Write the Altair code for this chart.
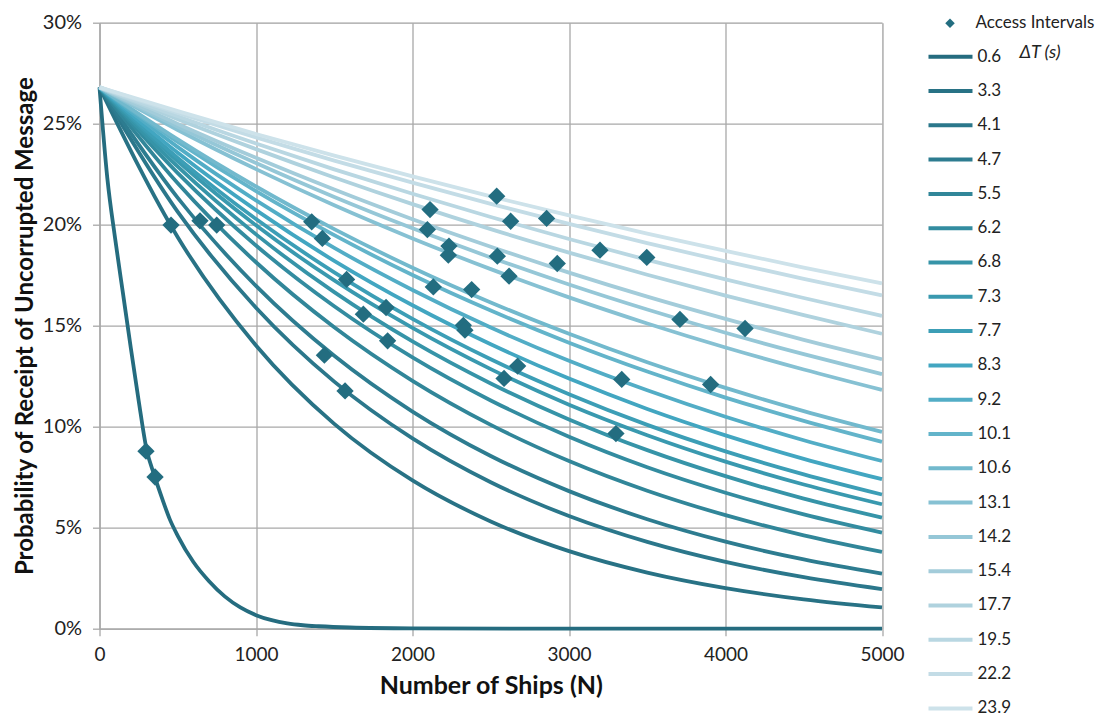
import altair as alt
import pandas as pd

# ---- data ----
DT_LABELS = ["0.6", "3.3", "4.1", "4.7", "5.5", "6.2", "6.8", "7.3", "7.7", "8.3",
             "9.2", "10.1", "10.6", "13.1", "14.2", "15.4", "17.7", "19.5", "22.2", "23.9"]

COLORS = ["#256c7f", "#287285", "#2b778b", "#2d7c90", "#318699", "#338ca0", "#3694a8",
          "#3999af", "#3c9eb6", "#42a6c1", "#52adc6", "#63b4ca", "#72b9cd", "#86c1d3",
          "#95c7d7", "#a3ccda", "#afd2de", "#b9d7e2", "#c3dce6", "#cde2ea"]

# ships axis for the 0.6 s curve (dense, steep drop)
N_06 = [0, 50, 100, 150, 200, 250, 300, 350, 400, 450, 500, 600, 700, 800, 900,
        1000, 1100, 1200, 1300, 1400, 1600, 2000, 3000, 4000, 5000]
P_06 = [26.8, 22.3, 19.3, 16.6, 13.9, 11.3, 8.9, 7.6, 6.45, 5.4, 4.6, 3.3, 2.35, 1.6, 1.05,
        0.67, 0.42, 0.26, 0.17, 0.12, 0.06, 0.02, 0.0, 0.0, 0.0]

# ships axis for the other curves
N_GRID = [0, 500, 1000, 1500, 2000, 2500, 3000, 3500, 4000, 4500, 5000]
P_3_3 = [26.8, 19.38, 14.02, 10.14, 7.34, 5.31, 3.84, 2.78, 2.01, 1.45, 1.05]
P_4_1 = [26.8, 20.63, 15.89, 12.23, 9.42, 7.25, 5.58, 4.30, 3.31, 2.55, 1.96]
P_4_7 = [26.8, 21.33, 16.97, 13.51, 10.75, 8.55, 6.81, 5.42, 4.31, 3.43, 2.73]
P_5_5 = [26.8, 22.05, 18.14, 14.92, 12.27, 10.09, 8.30, 6.83, 5.62, 4.62, 3.80]
P_6_2 = [26.8, 22.55, 18.97, 15.96, 13.43, 11.30, 9.50, 7.99, 6.73, 5.66, 4.76]
P_6_8 = [26.8, 22.87, 19.52, 16.66, 14.22, 12.14, 10.36, 8.84, 7.55, 6.44, 5.50]
P_7_3 = [26.8, 23.14, 19.97, 17.24, 14.89, 12.85, 11.09, 9.58, 8.27, 7.14, 6.16]
P_7_7 = [26.8, 23.31, 20.28, 17.64, 15.34, 13.34, 11.61, 10.09, 8.78, 7.64, 6.64]
P_8_3 = [26.8, 23.56, 20.72, 18.21, 16.01, 14.08, 12.38, 10.88, 9.57, 8.41, 7.40]
P_9_2 = [26.8, 23.84, 21.20, 18.85, 16.77, 14.91, 13.26, 11.80, 10.49, 9.33, 8.30]
P_10_1 = [26.8, 24.10, 21.66, 19.48, 17.51, 15.75, 14.16, 12.73, 11.44, 10.29, 9.25]
P_10_6 = [26.8, 24.22, 21.89, 19.78, 17.87, 16.15, 14.60, 13.19, 11.92, 10.77, 9.74]
P_13_1 = [26.8, 24.69, 22.75, 20.96, 19.32, 17.80, 16.40, 15.11, 13.92, 12.83, 11.82]
P_14_2 = [26.8, 24.85, 23.05, 21.37, 19.82, 18.38, 17.04, 15.80, 14.65, 13.59, 12.60]
P_15_4 = [26.8, 24.99, 23.31, 21.74, 20.27, 18.91, 17.63, 16.44, 15.34, 14.30, 13.34]
P_17_7 = [26.8, 25.22, 23.74, 22.34, 21.02, 19.78, 18.62, 17.52, 16.49, 15.52, 14.60]
P_19_5 = [26.8, 25.37, 24.02, 22.74, 21.53, 20.38, 19.29, 18.26, 17.29, 16.37, 15.49]
P_22_2 = [26.8, 25.53, 24.32, 23.17, 22.08, 21.03, 20.04, 19.09, 18.18, 17.32, 16.50]
P_23_9 = [26.8, 25.62, 24.49, 23.42, 22.39, 21.40, 20.46, 19.56, 18.70, 17.88, 17.09]

# access-interval diamonds
DIAMOND_N = [297, 355, 457, 642, 749, 1356, 1424, 1437, 1579, 1569, 1686, 1831, 1841,
             2095, 2112, 2233, 2229, 2133, 2378, 2325, 2335, 2538, 2542, 2627, 2617,
             2585, 2672, 2857, 2925, 3198, 3300, 3337, 3497, 3709, 3905, 4125]
DIAMOND_P = [8.79, 7.51, 19.98, 20.19, 19.98, 20.14, 19.32, 13.54, 17.29, 11.77, 15.57,
             15.9, 14.25, 19.76, 20.75, 18.94, 18.49, 16.92, 16.79, 15.02, 14.78, 21.41,
             18.44, 20.17, 17.45, 12.39, 13.0, 20.31, 18.08, 18.74, 9.66, 12.34, 18.38,
             15.31, 12.09, 14.86]

# ---- tables ----
other = [P_3_3, P_4_1, P_4_7, P_5_5, P_6_2, P_6_8, P_7_3, P_7_7, P_8_3, P_9_2,
         P_10_1, P_10_6, P_13_1, P_14_2, P_15_4, P_17_7, P_19_5, P_22_2, P_23_9]
rows = []
for n, p in zip(N_06, P_06):
    rows.append({"dt": DT_LABELS[0], "order": 0, "N": n, "P": p})
for i, series in enumerate(other, start=1):
    for n, p in zip(N_GRID, series):
        rows.append({"dt": DT_LABELS[i], "order": i, "N": n, "P": p})
curves = pd.DataFrame(rows)

diamonds = pd.DataFrame({"N": DIAMOND_N, "P": DIAMOND_P, "kind": "Access Intervals"})

FONT = "Lato"
GRID = "#a8a8a8"

x_scale = alt.Scale(domain=[0, 5000], nice=False)
y_scale = alt.Scale(domain=[0, 30], nice=False)

x_axis = alt.Axis(values=[0, 1000, 2000, 3000, 4000, 5000], title="Number of Ships (N)",
                  format="d", labelFlush=False,
                  labelFont=FONT, labelFontSize=19, labelColor="#222",
                  titleFont=FONT, titleFontSize=25, titleFontWeight="bold", titleColor="#111",
                  titlePadding=9, labelPadding=10, grid=True, gridColor=GRID, gridWidth=1.3,
                  domainColor=GRID, domainWidth=1.3, tickColor=GRID, tickSize=7, tickWidth=1.3)
y_axis = alt.Axis(values=[0, 5, 10, 15, 20, 25, 30], title="Probability of Receipt of Uncorrupted Message",
                  labelExpr="datum.value + '%'", labelFlush=False,
                  labelFont=FONT, labelFontSize=20, labelColor="#222",
                  titleFont=FONT, titleFontSize=24, titleFontWeight="bold", titleColor="#111",
                  titlePadding=5, labelPadding=11, grid=True, gridColor=GRID, gridWidth=1.3,
                  domainColor=GRID, domainWidth=1.3, tickColor=GRID, tickSize=7, tickWidth=1.3)

lines = alt.Chart(curves).mark_line(strokeWidth=3.8, interpolate="monotone").encode(
    x=alt.X("N:Q", scale=x_scale, axis=x_axis),
    y=alt.Y("P:Q", scale=y_scale, axis=y_axis),
    color=alt.Color("dt:N", sort=DT_LABELS,
                    scale=alt.Scale(domain=DT_LABELS, range=COLORS),
                    legend=alt.Legend(title="\u0394T (s)", orient="none", legendX=827, legendY=21,
                                      symbolType="M-1,0H3", symbolSize=484, symbolStrokeWidth=4,
                                      labelOffset=25, rowPadding=13.3, padding=0,
                                      labelFont=FONT, labelFontSize=17, labelColor="#222",
                                      titleOrient="right", titleAnchor="start", titleFont=FONT,
                                      titleFontSize=18, titleFontStyle="italic",
                                      titleFontWeight="normal", titleColor="#222", titlePadding=8)),
    order=alt.Order("order:Q"),
)

points = alt.Chart(diamonds).mark_point(filled=True, size=300, opacity=1, color="#236d80").encode(
    x=alt.X("N:Q", scale=x_scale),
    y=alt.Y("P:Q", scale=y_scale),
    shape=alt.Shape("kind:N", scale=alt.Scale(domain=["Access Intervals"], range=["diamond"]),
                    legend=alt.Legend(title=None, orient="none", legendX=842, legendY=-8,
                                      symbolSize=90, symbolFillColor="#236d80",
                                      symbolStrokeColor="#236d80", symbolOpacity=1,
                                      labelOffset=17, padding=0, labelFont=FONT,
                                      labelFontSize=17, labelColor="#222", labelLimit=200)),
)

chart = alt.layer(lines, points).properties(
    width=782.5, height=606,
    autosize=alt.AutoSizeParams(type="none"),
    padding={"left": 91.5, "top": 14.7, "right": 215, "bottom": 93},
).configure_view(stroke=None).configure(background="white")

chart.save("out.html", embed_options={"renderer": "svg", "actions": False})
